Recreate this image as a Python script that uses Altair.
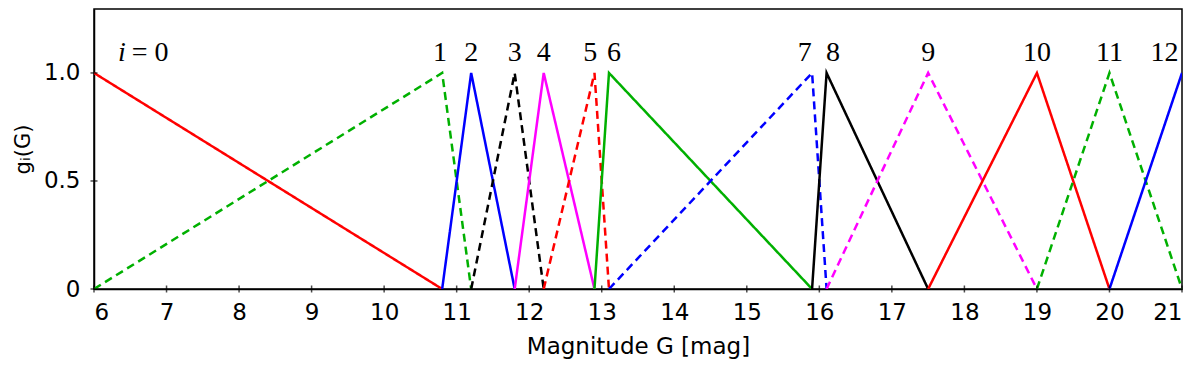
import altair as alt
import pandas as pd

knots = [6.0, 10.8, 11.2, 11.8, 12.2, 12.9, 13.1, 15.9, 16.1, 17.5, 19.0, 20.0, 21.0]
colors = ["#ff0000", "#00b000", "#0000ff", "#000000", "#ff00ff", "#ff0000", "#00b000",
          "#0000ff", "#000000", "#ff00ff", "#ff0000", "#00b000", "#0000ff"]
dashed = [False, True, False, True, False, True, False, True, False, True, False, True, False]
label_text = ["", "1", "2", "3", "4", "5", "6", "7", "8", "9", "10", "11", "12"]
label_x = [None, 10.77, 11.2, 11.8, 12.2, 12.84, 13.17, 15.8, 16.19, 17.5, 19.0, 20.0, 20.76]
label_y = 1.092
x_ticks = list(range(6, 22))
y_ticks = [0, 0.5, 1.0]

rows = []
n = len(knots)
for i in range(n):
    pts = []
    if i > 0:
        pts.append((knots[i - 1], 0.0))
    pts.append((knots[i], 1.0))
    if i < n - 1:
        pts.append((knots[i + 1], 0.0))
    for k, (x, y) in enumerate(pts):
        rows.append({"x": x, "y": y, "i": f"g{i:02d}", "o": k})
df = pd.DataFrame(rows)

ids = [f"g{i:02d}" for i in range(n)]
dash_range = [[8, 5] if d else [1, 0] for d in dashed]

xs = alt.Scale(domain=[6, 21], nice=False, zero=False)
ys = alt.Scale(domain=[0, 1.296], nice=False)

FONT = "DejaVu Sans"

lines = alt.Chart(df).mark_line(strokeWidth=2.5, clip=True).encode(
    x=alt.X("x:Q", scale=xs, title="Magnitude G [mag]",
            axis=alt.Axis(values=x_ticks, format="d", ticks=False,
                          domainColor="black", labelFontSize=23, titleFontSize=23,
                          labelFont=FONT, titleFont=FONT, labelColor="black",
                          titleColor="black", grid=False, labelPadding=12, titlePadding=11,
                          titleFontWeight="normal", domainWidth=1.5)),
    y=alt.Y("y:Q", scale=ys, title="gᵢ(G)",
            axis=alt.Axis(values=y_ticks, labelExpr="datum.value == 0 ? '0' : format(datum.value, '.1f')",
                          ticks=False, domainColor="black", labelFontSize=23,
                          titleFontSize=21, labelFont=FONT, titleFont=FONT,
                          labelColor="black", titleColor="black", grid=False, labelPadding=14,
                          titlePadding=10, titleFontWeight="normal", domainWidth=1.5)),
    color=alt.Color("i:N", scale=alt.Scale(domain=ids, range=colors), legend=None),
    strokeDash=alt.StrokeDash("i:N", scale=alt.Scale(domain=ids, range=dash_range), legend=None),
    order="o:Q",
)

xt = alt.Chart(pd.DataFrame({"v": x_ticks})).mark_tick(
    orient="vertical", size=7, thickness=1.5, color="black").encode(
    x=alt.X("v:Q", scale=xs), y=alt.datum(0, scale=ys))
yt = alt.Chart(pd.DataFrame({"v": y_ticks})).mark_tick(
    orient="horizontal", size=7, thickness=1.5, color="black").encode(
    y=alt.Y("v:Q", scale=ys), x=alt.datum(6, scale=xs))

lab_df = pd.DataFrame({"x": label_x[1:], "y": [label_y] * (n - 1), "t": label_text[1:]})
labels = alt.Chart(lab_df).mark_text(font="Liberation Serif", fontSize=28, color="black",
                                      baseline="middle", align="center").encode(
    x=alt.X("x:Q", scale=xs), y=alt.Y("y:Q", scale=ys), text="t:N")

i_df = pd.DataFrame({"x": [6.33], "y": [label_y], "t": ["i"]})
i_lab = alt.Chart(i_df).mark_text(font="Liberation Serif", fontSize=28, fontStyle="italic",
                                   color="black", baseline="middle", align="left").encode(
    x=alt.X("x:Q", scale=xs), y=alt.Y("y:Q", scale=ys), text="t:N")
eq_df = pd.DataFrame({"x": [6.52], "y": [label_y], "t": ["= 0"]})
eq_lab = alt.Chart(eq_df).mark_text(font="Liberation Serif", fontSize=28,
                                     color="black", baseline="middle", align="left").encode(
    x=alt.X("x:Q", scale=xs), y=alt.Y("y:Q", scale=ys), text="t:N")

chart = alt.layer(lines, xt, yt, labels, i_lab, eq_lab).properties(
    width=1088, height=280,
    autosize=alt.AutoSizeParams(type="none"),
    padding={"left": 86, "top": 1, "right": 10, "bottom": 70},
    background="white",
).configure_view(stroke="black", strokeWidth=1.5)

chart.save("out.html", embed_options={"renderer": "svg", "actions": False})
